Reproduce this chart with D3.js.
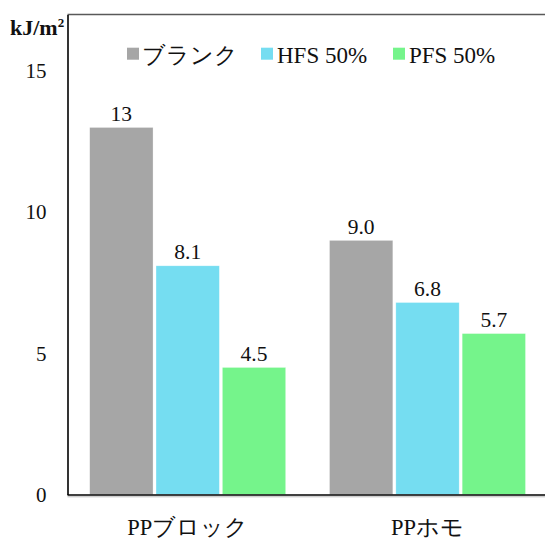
<!DOCTYPE html>
<html><head><meta charset="utf-8">
<script src="https://cdn.jsdelivr.net/npm/d3@7"></script>
<style>body{margin:0;background:#fff}svg{display:block}</style>
</head><body>
<script>
const categories = ["PPブロック", "PPホモ"];
const seriesNames = ["ブランク", "HFS 50%", "PFS 50%"];
const blank = [13, 9.0];
const hfs = [8.1, 6.8];
const pfs = [4.5, 5.7];
const valueLabels = [["13", "9.0"], ["8.1", "6.8"], ["4.5", "5.7"]];
const yTicks = [0, 5, 10, 15];
const colors = ["#a6a6a6", "#75ddf1", "#75f48b"];
const series = [blank, hfs, pfs];

const SF = '"Liberation Serif"';
const W = 545, H = 539;
const svg = d3.select("body").append("svg").attr("width", W).attr("height", H);

const y = d3.scaleLinear().domain([0, 17]).range([494.5, 14.5]);
const x0 = d3.scaleBand().domain(categories).range([67.8, 547.4]).paddingInner(0.1827).paddingOuter(0.0913);
const x1 = d3.scaleBand().domain(d3.range(3)).range([0, x0.bandwidth()]).paddingInner(0.045);

// frame
svg.append("line").attr("x1", 67.5).attr("x2", W + 5).attr("y1", 14.5).attr("y2", 14.5)
  .attr("stroke", "#595959").attr("stroke-width", 1.6);

// bars
series.forEach((vals, si) => {
  svg.append("g").selectAll("rect").data(vals).join("rect")
    .attr("x", (d, i) => x0(categories[i]) + x1(si))
    .attr("y", d => y(d))
    .attr("width", x1.bandwidth())
    .attr("height", d => y(0) - y(d))
    .attr("fill", colors[si])
    .attr("stroke", "#ffffff").attr("stroke-opacity", 0.5).attr("stroke-width", 0.6);
  svg.append("g").selectAll("text").data(vals).join("text")
    .attr("x", (d, i) => x0(categories[i]) + x1(si) + x1.bandwidth() / 2)
    .attr("y", d => y(d) - 6.3)
    .attr("text-anchor", "middle")
    .style("font-family", SF).style("font-size", "21.5px").attr("fill", "#111")
    .text((d, i) => valueLabels[si][i]);
});

// y axis
const yAxis = d3.axisLeft(y).tickValues(yTicks).tickSize(0).tickPadding(21).tickFormat(d3.format("d"));
const gy = svg.append("g").attr("transform", "translate(67.5,0)").call(yAxis);
gy.select(".domain").attr("stroke", "#000").attr("stroke-width", 1.6);
gy.selectAll("text").style("font-family", SF).style("font-size", "21px").attr("fill", "#111");

// x axis
const xAxis = d3.axisBottom(x0).tickSize(0).tickPadding(0);
const gx = svg.append("g").attr("transform", "translate(0,494.5)").call(xAxis);
gx.select(".domain").remove();
gx.selectAll("text").style("font-family", SF).style("font-size", "22.5px").attr("fill", "#111")
  .attr("dy", null).attr("y", 40.5);
svg.append("line").attr("x1", 67.5).attr("x2", W + 5).attr("y1", 495).attr("y2", 495)
  .attr("stroke", "#000").attr("stroke-width", 1.6);
svg.append("line").attr("x1", 67.5).attr("x2", W + 5).attr("y1", 496.8).attr("y2", 496.8)
  .attr("stroke", "#bbb").attr("stroke-width", 1);

// unit label
const u = svg.append("text").attr("x", 10).attr("y", 34.5)
  .style("font-family", SF).style("font-weight", "bold").style("font-size", "22px").attr("fill", "#111");
u.append("tspan").text("kJ/m");
u.append("tspan").style("font-size", "13px").attr("dy", -8).text("2");

// legend
const legendX = [127, 261, 393];
const legendTextX = [142, 277, 409];
const lg = svg.append("g");
seriesNames.forEach((n, i) => {
  lg.append("rect").attr("x", legendX[i]).attr("y", 47.7).attr("width", 12).attr("height", 12).attr("fill", colors[i]);
  lg.append("text").attr("x", legendTextX[i]).attr("y", 62.5)
    .style("font-family", SF).style("font-size", "23px").attr("fill", "#111").text(n);
});
</script>
</body></html>
